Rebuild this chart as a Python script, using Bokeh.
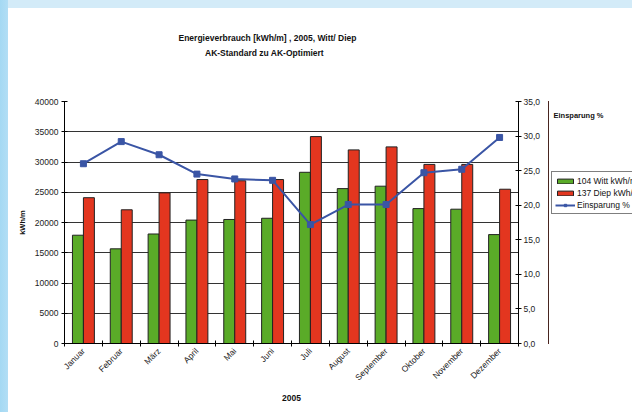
import numpy as np
from math import pi
from bokeh.plotting import figure
from bokeh.layouts import column, row
from bokeh.models import (Range1d, LinearAxis, FixedTicker, Legend, LegendItem,
                          Label, ColumnDataSource)
from bokeh.transform import dodge
from bokeh.embed import file_html
from bokeh.resources import INLINE

months = ["Januar", "Februar", "März", "April", "Mai", "Juni", "Juli",
          "August", "September", "Oktober", "November", "Dezember"]
witt = [17900, 15650, 18100, 20400, 20500, 20700, 28300, 25600, 26000, 22300, 22200, 18000]
diep = [24100, 22100, 24900, 27100, 26900, 27100, 34200, 32000, 32500, 29600, 29600, 25500]
einsparung = [26.0, 29.2, 27.3, 24.5, 23.8, 23.6, 17.2, 20.1, 20.1, 24.7, 25.2, 29.8]
y_ticks = [0, 5000, 10000, 15000, 20000, 25000, 30000, 35000, 40000]
pct_ticks = [0, 5, 10, 15, 20, 25, 30, 35]
pct_labels = ["0,0", "5,0", "10,0", "15,0", "20,0", "25,0", "30,0", "35,0"]
series_names = ["104 Witt kWh/m", "137 Diep kWh/m", "Einsparung %"]
title_lines = ["Energieverbrauch [kWh/m] , 2005, Witt/ Diep", "AK-Standard zu AK-Optimiert"]

FONT = "Liberation Sans"
GREEN = "#5aab28"
RED = "#e3361f"
BLUE = "#3a55a5"
TXT = "#111111"


def blank(width, height, xr, yr, **borders):
    b = dict(min_border_left=0, min_border_right=0, min_border_top=0, min_border_bottom=0)
    b.update(borders)
    f = figure(width=width, height=height, output_backend="svg", toolbar_location=None,
               x_range=Range1d(*xr), y_range=Range1d(*yr),
               x_axis_type=None, y_axis_type=None, **b)
    f.outline_line_color = None
    f.xgrid.grid_line_color = None
    f.ygrid.grid_line_color = None
    f.background_fill_color = "white"
    f.border_fill_color = "white"
    return f


# ---- title strip (page coords x 8..632, y 8..93)
t = blank(624, 85, (8, 632), (93, 8))
t.add_layout(Label(x=267, y=37, text=title_lines[0], text_font=FONT, text_font_size="8.5px",
                   text_font_style="bold", text_align="center", text_baseline="middle",
                   text_color=TXT))
t.add_layout(Label(x=264, y=52, text=title_lines[1], text_font=FONT, text_font_size="8.5px",
                   text_font_style="bold", text_align="center", text_baseline="middle",
                   text_color=TXT))

# ---- main chart
centers = np.arange(len(months)) + 0.5
src = ColumnDataSource(dict(c=centers, witt=witt, diep=diep, pct=einsparung))

p = figure(width=540, height=319, output_backend="svg", toolbar_location=None,
           x_range=Range1d(0, 12), y_range=Range1d(0, 40000),
           min_border_left=56, min_border_right=30, min_border_top=8,
           min_border_bottom=69)
p.background_fill_color = "white"
p.border_fill_color = "white"
p.outline_line_color = None
p.extra_y_ranges = {"pct": Range1d(0, 35)}

bw = 0.29
bar_style = dict(line_color="#222222", line_width=1)
p.vbar(x=dodge("c", -bw / 2), top="witt", width=bw, source=src, fill_color=GREEN, **bar_style)
p.vbar(x=dodge("c", bw / 2), top="diep", width=bw, source=src, fill_color=RED, **bar_style)
p.line("c", "pct", source=src, y_range_name="pct", line_color=BLUE, line_width=2)
p.scatter("c", "pct", source=src, y_range_name="pct", marker="square", size=6,
          fill_color=BLUE, line_color=BLUE)

xa = p.xaxis[0]
xa.ticker = FixedTicker(ticks=list(centers), minor_ticks=list(range(13)))
xa.major_label_overrides = {float(c): m for c, m in zip(centers, months)}
xa.major_label_orientation = pi / 4
xa.major_tick_in = 0
xa.major_tick_out = 0
xa.minor_tick_in = 3
xa.minor_tick_out = 3
xa.minor_tick_line_color = "black"
xa.axis_line_color = "black"
xa.major_label_text_font = FONT
xa.major_label_text_font_size = "8.5px"
xa.major_label_text_color = "#222222"
xa.major_label_standoff = 3
xa.axis_label = "2005"
xa.axis_label_text_font = FONT
xa.axis_label_text_font_style = "bold"
xa.axis_label_text_font_size = "8.5px"
xa.axis_label_text_color = TXT
xa.axis_label_standoff = 6

ya = p.yaxis[0]
ya.ticker = FixedTicker(ticks=y_ticks)
ya.major_tick_in = 3
ya.major_tick_out = 3
ya.minor_tick_line_color = None
ya.axis_line_color = "black"
ya.major_label_text_font = FONT
ya.major_label_text_font_size = "8.5px"
ya.major_label_text_color = "#222222"
ya.major_label_standoff = 3
ya.axis_label = "kWh/m"
ya.axis_label_text_font = FONT
ya.axis_label_text_font_style = "bold"
ya.axis_label_text_font_size = "7.5px"
ya.axis_label_text_color = TXT
ya.axis_label_standoff = 5

ra = LinearAxis(y_range_name="pct", ticker=FixedTicker(ticks=pct_ticks))
ra.major_label_overrides = {tk: lb for tk, lb in zip(pct_ticks, pct_labels)}
ra.major_tick_in = 3
ra.major_tick_out = 3
ra.minor_tick_line_color = None
ra.axis_line_color = "black"
ra.major_label_text_font = FONT
ra.major_label_text_font_size = "8.5px"
ra.major_label_text_color = "#222222"
ra.major_label_standoff = 2
p.add_layout(ra, "right")

p.xgrid.grid_line_color = None
p.ygrid.ticker = FixedTicker(ticks=y_ticks)
p.ygrid.grid_line_color = "#333333"
p.ygrid.grid_line_width = 1

# ---- right strip with legend; its frame spans page x 548..632, y 101..343
q = blank(84, 319, (548, 632), (343, 101), min_border_top=8, min_border_bottom=69)
q.add_layout(Label(x=553, y=115, text="Einsparung %", text_font=FONT, text_font_size="7.5px",
                   text_font_style="bold", text_align="left", text_baseline="middle",
                   text_color=TXT))
# legend proxies: same data, lying outside this strip's visible range
lw = q.vbar(x="c", top="witt", width=bw, source=src, fill_color=GREEN, **bar_style)
ld = q.vbar(x="c", top="diep", width=bw, source=src, fill_color=RED, **bar_style)
ll = q.line("c", "pct", source=src, line_color=BLUE, line_width=2)
ls = q.scatter("c", "pct", source=src, marker="square", size=6, fill_color=BLUE, line_color=BLUE)

legend = Legend(items=[
    LegendItem(label=series_names[0], renderers=[lw], index=0),
    LegendItem(label=series_names[1], renderers=[ld], index=0),
    LegendItem(label=series_names[2], renderers=[ll, ls], index=0),
], location=(3, 129))
legend.border_line_color = "black"
legend.border_line_width = 1
legend.background_fill_color = "white"
legend.background_fill_alpha = 1
legend.label_text_font = FONT
legend.label_text_font_size = "8.5px"
legend.label_text_color = TXT
legend.glyph_width = 20
legend.glyph_height = 6
legend.label_height = 11
legend.label_standoff = 2
legend.spacing = 1
legend.padding = 3
legend.margin = 0
q.add_layout(legend, "center")

layout = column(t, row(p, q, spacing=0), spacing=0)

html = file_html(layout, INLINE)
css = ("<style>html,body{margin:0 !important;}"
       "body{padding:8px 0 0 8px !important;box-sizing:border-box;"
       "background:linear-gradient(to right,#a4d9f3 0px,#b2def5 8px,transparent 8px),"
       "linear-gradient(to bottom,#d3ebf8 0px,#d3ebf8 8px,#ffffff 8px) !important;}</style>")
html = html.replace("</head>", css + "</head>", 1)
open("out.html", "w").write(html)
